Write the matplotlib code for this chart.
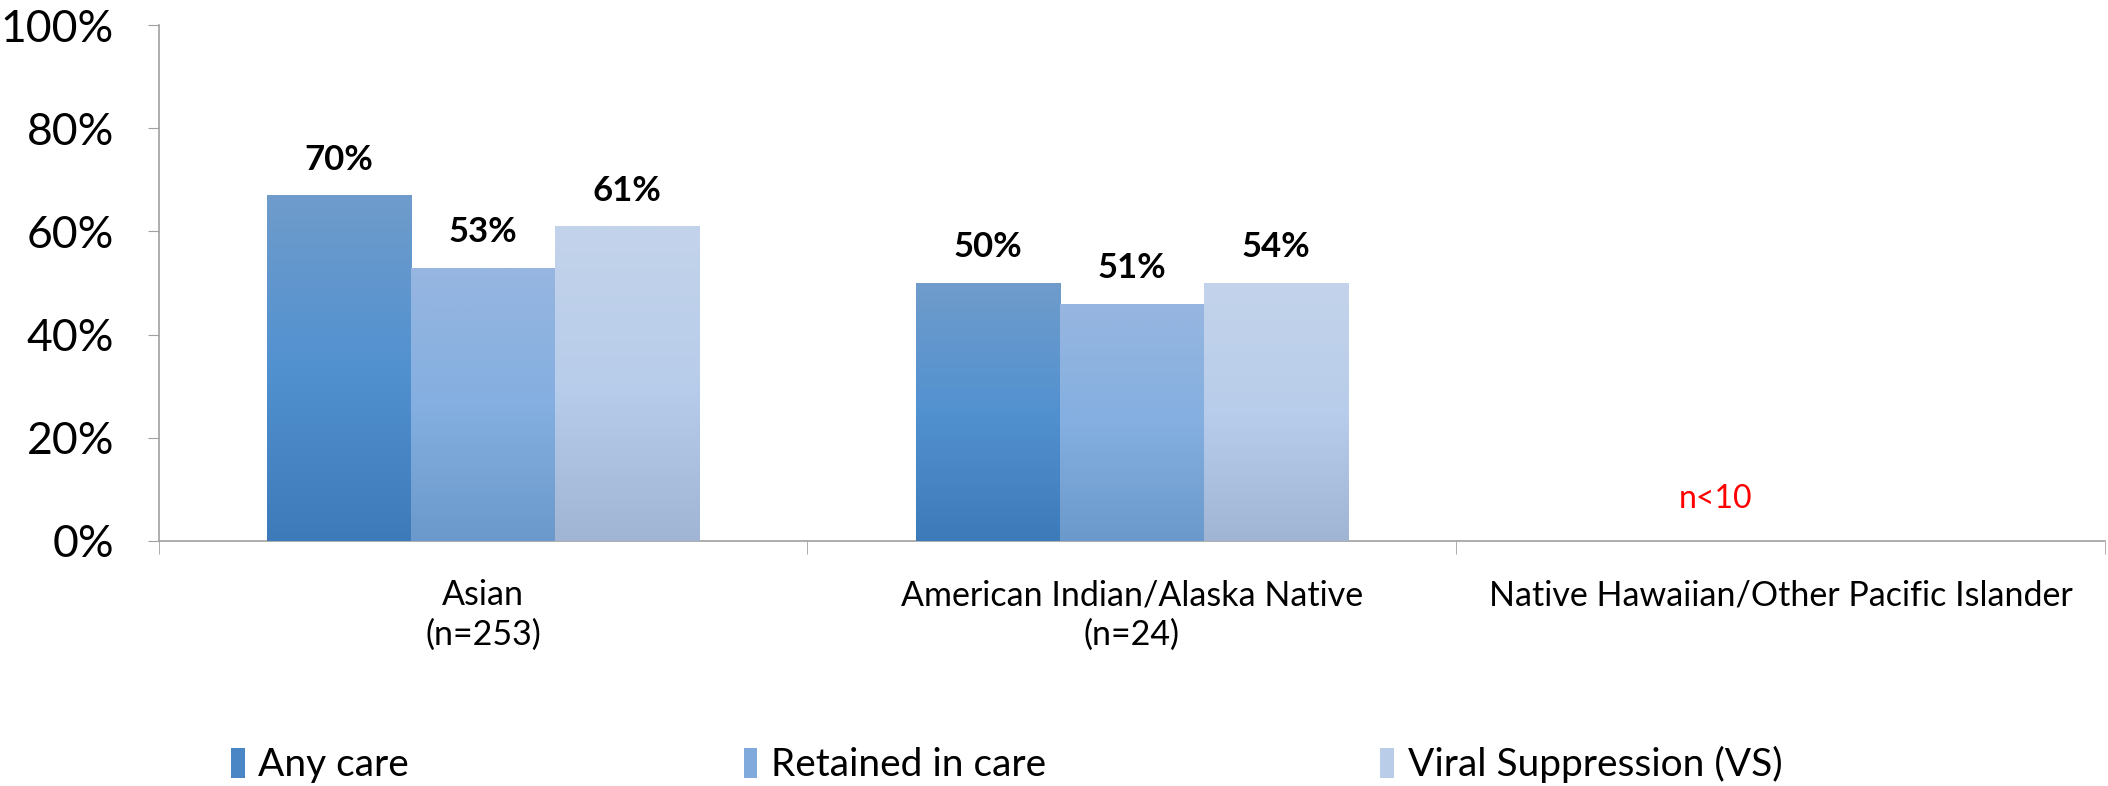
import numpy as np
import matplotlib
matplotlib.use('Agg')
import matplotlib.pyplot as plt
from matplotlib.colors import LinearSegmentedColormap
from matplotlib.patches import Patch

plt.rcParams['font.family'] = ['Lato', 'DejaVu Sans']

categories = ['Asian\n(n=253)', 'American Indian/Alaska Native\n(n=24)',
              'Native Hawaiian/Other Pacific Islander']
series = ['Any care', 'Retained in care', 'Viral Suppression (VS)']

# bar heights as drawn, and the labels printed above them
any_care = [67, 50, np.nan]
retained = [53, 46, np.nan]
viral_supp = [61, 50, np.nan]
any_care_lbl = ['70%', '50%', '']
retained_lbl = ['53%', '51%', '']
viral_supp_lbl = ['61%', '54%', '']
note = 'n<10'

values = [any_care, retained, viral_supp]
labels = [any_care_lbl, retained_lbl, viral_supp_lbl]

# bottom, middle, top colours of each gradient
grads = [
    ['#3d7aba', '#5291d0', '#6f9ccb'],
    ['#6b99cb', '#84afe0', '#97b6e0'],
    ['#a0b5d4', '#b8cdeb', '#c3d3ea'],
]
solid = ['#4a86c6', '#80a9dc', '#b9cce8']

fig = plt.figure(figsize=(21.08, 7.86), dpi=100)
ax = fig.add_axes([0.0752, 0.3123, 0.9234, 0.6553])

x = np.arange(len(categories))
w = 0.222
for i, (vals, lbls) in enumerate(zip(values, labels)):
    pos = x + (i - 1) * w
    bars = ax.bar(pos, vals, width=w, color=solid[i], zorder=2)
    cmap = LinearSegmentedColormap.from_list(f'g{i}', grads[i])
    grad = np.linspace(0, 1, 256).reshape(-1, 1)
    for b, lbl in zip(bars, lbls):
        h = b.get_height()
        if np.isnan(h):
            continue
        x0 = b.get_x()
        im = ax.imshow(grad, extent=[x0, x0 + w, 0, h], origin='lower',
                       aspect='auto', cmap=cmap, zorder=3)
        im.set_clip_path(b)
        ax.text(x0 + w / 2, h + 3.8, lbl, ha='center', va='bottom',
                fontsize=25, fontweight='bold', color='black', zorder=4)

ax.text(1.9, 8, note, color='red', ha='center', va='center', fontsize=23)

ax.set_xlim(-0.5, 2.5)
ax.set_ylim(0, 100)
ax.set_yticks(np.arange(0, 101, 20))
ax.set_yticklabels([f'{v}%' for v in range(0, 101, 20)], fontsize=32)
ax.tick_params(axis='y', length=8, color='#a0a0a0', pad=24)

ax.set_xticks(x)
ax.set_xticklabels(categories, fontsize=24.5, linespacing=1.27)
ax.tick_params(axis='x', which='major', length=0, pad=28)
ax.set_xticks([-0.5, 0.5, 1.5, 2.5], minor=True)
ax.tick_params(axis='x', which='minor', length=9, color='#a0a0a0')

for s in ['top', 'right']:
    ax.spines[s].set_visible(False)
for s in ['left', 'bottom']:
    ax.spines[s].set_color('#a0a0a0')
    ax.spines[s].set_linewidth(1.2)

handles = [Patch(facecolor=solid[i], edgecolor='none') for i in range(3)]
fig.legend(handles, series, loc='center left', bbox_to_anchor=(0.1097, 0.027),
           ncol=3, frameon=False, fontsize=28, columnspacing=8.6,
           borderpad=0, borderaxespad=0,
           handlelength=0.35, handleheight=0.8, handletextpad=0.35)

fig.savefig('out.png', dpi=100)
